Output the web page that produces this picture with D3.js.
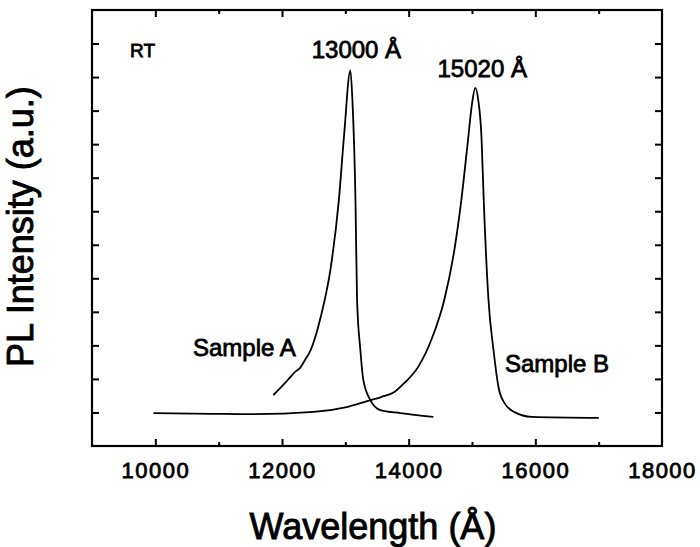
<!DOCTYPE html>
<html>
<head>
<meta charset="utf-8">
<script src="https://cdn.jsdelivr.net/npm/d3@7"></script>
<style>
  body { margin: 0; background: #fff; }
  svg { display: block; font-family: "Liberation Sans", Arial, Helvetica, sans-serif; }
</style>
</head>
<body>
<svg id="chart" width="700" height="547"></svg>
<script>
// ---- data ----
const sampleAWavelength = [11864, 12049, 12138, 12207, 12286, 12365, 12455, 12613, 12772, 12898, 12981, 13080, 13112, 13160, 13185, 13237, 13284, 13395, 13555, 13870, 14390];
const sampleAIntensity  = [1.52, 1.88, 2.07, 2.21, 2.33, 2.57, 2.87, 3.86, 5.35, 7.34, 9.28, 11.2, 10.3, 7.34, 4.36, 2.87, 1.97, 1.37, 1.07, 0.98, 0.87];

const sampleBWavelength = [9970, 10900, 11450, 12500, 13040, 13405, 13565, 13775, 13933, 14150, 14357, 14563, 14722, 14832, 14930, 15000, 15051, 15100, 15150, 15185, 15260, 15339, 15418, 15513, 15672, 15941, 17003];
const sampleBIntensity  = [0.98, 0.96, 0.95, 1.02, 1.17, 1.37, 1.46, 1.61, 1.88, 2.36, 3.16, 4.36, 5.85, 7.34, 9.0, 10.2, 10.68, 10.3, 9.2, 7.34, 4.36, 2.87, 1.76, 1.28, 1.01, 0.87, 0.84];

const xMajorTicks = [10000, 12000, 14000, 16000, 18000];
const xMinorTicks = [11000, 13000, 15000, 17000];
const yTicks = [1, 2, 3, 4, 5, 6, 7, 8, 9, 10, 11, 12];
const xDomain = [9000, 18000];
const yDomain = [0, 13];

const peakA = { wavelength: 13080, intensity: 11.2, label: "13000 Å" };
const peakB = { wavelength: 15051, intensity: 10.68, label: "15020 Å" };

// ---- layout ----
const svg = d3.select("#chart");
const PL = 92, PR = 662, PT = 10, PB = 446;

const x = d3.scaleLinear().domain(xDomain).range([PL, PR]);
const y = d3.scaleLinear().domain(yDomain).range([PB, PT]);

function styleTicks(g) {
  g.select(".domain").remove();
  g.selectAll(".tick line").attr("stroke-width", 2).attr("stroke", "#000");
}

// axes (ticks inward)
const gBottom = svg.append("g").attr("transform", `translate(0,${PB})`)
  .call(d3.axisBottom(x).tickValues(xMajorTicks).tickSize(-7).tickPadding(16).tickFormat(d3.format("d")));
gBottom.selectAll("text").attr("font-size", 22).attr("letter-spacing", "1.5px").attr("fill", "#000")
  .attr("stroke", "#000").attr("stroke-width", 0.8)
  .attr("font-family", "'Liberation Sans', Arial, sans-serif");
styleTicks(gBottom);
gBottom.selectAll(".tick").filter(d => d === 18000).select("line").remove();

const gBottomMinor = svg.append("g").attr("transform", `translate(0,${PB})`)
  .call(d3.axisBottom(x).tickValues(xMinorTicks).tickSize(-4).tickFormat(""));
styleTicks(gBottomMinor);

const gTop = svg.append("g").attr("transform", `translate(0,${PT})`)
  .call(d3.axisTop(x).tickValues(xMajorTicks.filter(d => d < 18000)).tickSize(-7).tickFormat(""));
styleTicks(gTop);
const gTopMinor = svg.append("g").attr("transform", `translate(0,${PT})`)
  .call(d3.axisTop(x).tickValues(xMinorTicks).tickSize(-4).tickFormat(""));
styleTicks(gTopMinor);

const gLeft = svg.append("g").attr("transform", `translate(${PL},0)`)
  .call(d3.axisLeft(y).tickValues(yTicks).tickSize(-7).tickFormat(""));
styleTicks(gLeft);

const gRight = svg.append("g").attr("transform", `translate(${PR},0)`)
  .call(d3.axisRight(y).tickValues(yTicks).tickSize(-7).tickFormat(""));
styleTicks(gRight);

// frame
svg.append("rect").attr("x", PL).attr("y", PT).attr("width", PR - PL).attr("height", PB - PT)
  .attr("fill", "none").attr("stroke", "#000").attr("stroke-width", 2.2);

// curves
const line = d3.line().x(d => x(d[0])).y(d => y(d[1])).curve(d3.curveMonotoneX);
const dataA = sampleAWavelength.map((w, i) => [w, sampleAIntensity[i]]);
const dataB = sampleBWavelength.map((w, i) => [w, sampleBIntensity[i]]);

svg.append("path").datum(dataB).attr("d", line)
  .attr("fill", "none").attr("stroke", "#000").attr("stroke-width", 1.8);
svg.append("path").datum(dataA).attr("d", line)
  .attr("fill", "none").attr("stroke", "#000").attr("stroke-width", 1.8);

// annotations
const ann = svg.append("g").attr("fill", "#000").attr("stroke", "#000").attr("stroke-width", 0.8);
ann.append("text").attr("x", 130).attr("y", 57).attr("font-size", 19).text("RT");
ann.append("text").attr("x", x(peakA.wavelength) + 6).attr("y", y(peakA.intensity) - 12)
  .attr("text-anchor", "middle").attr("font-size", 24).text(peakA.label);
ann.append("text").attr("x", x(peakB.wavelength) + 7).attr("y", y(peakB.intensity) - 11)
  .attr("text-anchor", "middle").attr("font-size", 24).text(peakB.label);
ann.append("text").attr("x", 193).attr("y", 356).attr("font-size", 24).text("Sample A");
ann.append("text").attr("x", 505).attr("y", 372).attr("font-size", 24).text("Sample B");

// axis titles
const titles = svg.append("g").attr("fill", "#000").attr("stroke", "#000").attr("stroke-width", 0.9);
titles.append("text").attr("x", 373).attr("y", 539).attr("text-anchor", "middle")
  .attr("font-size", 36).text("Wavelength (Å)");
titles.append("text").attr("transform", "translate(33,367) rotate(-90)").attr("text-anchor", "start")
  .attr("font-size", 36).text("PL Intensity (a.u.)");
</script>
</body>
</html>
